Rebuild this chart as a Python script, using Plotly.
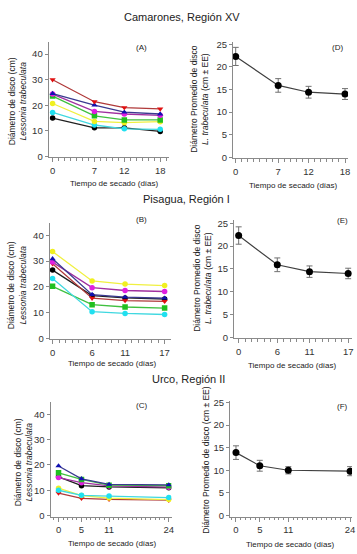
import plotly.graph_objects as go

# ---------------- data ----------------
days_A = [0, 7, 12, 18]
days_B = [0, 6, 11, 17]
days_C = [0, 5, 11, 24]

A_red = [30.0, 21.4, 19.1, 18.6]
A_blue = [24.6, 20.1, 17.3, 16.6]
A_magenta = [24.4, 17.6, 16.6, 16.1]
A_green = [23.6, 15.9, 14.3, 14.3]
A_yellow = [20.7, 13.7, 13.2, 13.6]
A_cyan = [17.2, 12.3, 10.8, 10.6]
A_black = [15.0, 11.2, 11.2, 9.8]

B_yellow = [33.7, 22.3, 21.1, 20.5]
B_blue = [30.9, 17.0, 16.0, 15.6]
B_magenta = [29.6, 19.7, 18.6, 18.2]
B_red = [29.0, 15.6, 14.7, 14.4]
B_black = [26.5, 16.6, 15.7, 15.3]
B_cyan = [23.2, 10.4, 9.7, 9.3]
B_green = [20.2, 13.1, 12.2, 11.8]

C_blue = [19.6, 14.5, 12.3, 12.1]
C_green = [16.9, 14.3, 12.0, 11.8]
C_magenta = [15.0, 13.0, 11.7, 11.2]
C_black = [15.3, 11.8, 11.3, 11.0]
C_yellow = [10.8, 7.9, 6.9, 6.3]
C_cyan = [10.0, 8.0, 7.7, 7.1]
C_red = [8.9, 6.8, 6.4, 6.1]

D_mean = [22.3, 15.9, 14.4, 14.0]
D_err = [2.0, 1.5, 1.3, 1.2]
E_mean = [22.3, 15.9, 14.4, 14.0]
E_err = [1.9, 1.5, 1.25, 1.15]
F_mean = [13.9, 11.0, 10.0, 9.8]
F_err = [1.5, 1.2, 0.8, 1.0]

# ---------------- styles ----------------
STY = {
    "red": dict(line="#b03a3a", marker="#e01010", symbol="triangle-down"),
    "blue": dict(line="#3a3a90", marker="#1010b0", symbol="triangle-up"),
    "magenta": dict(line="#a030a0", marker="#e020e0", symbol="circle"),
    "green": dict(line="#40c040", marker="#20c020", symbol="square"),
    "yellow": dict(line="#f0f040", marker="#f0f020", symbol="circle"),
    "cyan": dict(line="#40d8e0", marker="#20e0f0", symbol="circle"),
    "black": dict(line="#202020", marker="#000000", symbol="circle"),
}

fig = go.Figure()

def add_series(x, y, key, ax):
    s = STY[key]
    fig.add_trace(go.Scatter(
        x=x, y=y, mode="lines+markers", xaxis="x" + ax, yaxis="y" + ax,
        line=dict(color=s["line"], width=1.3),
        marker=dict(color=s["marker"], symbol=s["symbol"], size=5.5),
        showlegend=False))

# panel A (axis 1)
for key, vals in [("black", A_black), ("cyan", A_cyan), ("yellow", A_yellow),
                  ("green", A_green), ("magenta", A_magenta), ("blue", A_blue), ("red", A_red)]:
    add_series(days_A, vals, key, "")
# panel B (axis 3)
for key, vals in [("green", B_green), ("cyan", B_cyan), ("black", B_black), ("red", B_red),
                  ("magenta", B_magenta), ("blue", B_blue), ("yellow", B_yellow)]:
    add_series(days_B, vals, key, "3")
# panel C (axis 5)
for key, vals in [("red", C_red), ("yellow", C_yellow), ("cyan", C_cyan), ("black", C_black),
                  ("magenta", C_magenta), ("green", C_green), ("blue", C_blue)]:
    add_series(days_C, vals, key, "5")

def add_mean(x, y, e, ax):
    fig.add_trace(go.Scatter(
        x=x, y=y, mode="lines+markers", xaxis="x" + ax, yaxis="y" + ax,
        line=dict(color="#404040", width=1.2),
        marker=dict(color="#000000", size=7),
        error_y=dict(type="data", array=e, color="#707070", thickness=1, width=3),
        showlegend=False))

add_mean(days_A, D_mean, D_err, "2")
add_mean(days_B, E_mean, E_err, "4")
add_mean(days_C, F_mean, F_err, "6")

W, H = 357, 554
def px_x(a, b):
    return [a / W, b / W]
def px_y(top, bot):
    return [1 - bot / H, 1 - top / H]

TICKFONT = dict(family="Liberation Sans, Arial, sans-serif", size=9.5, color="#333333")
AXC = "#8a8a8a"

def xax(domain, rng, tv, anchor):
    return dict(domain=domain, range=rng, anchor=anchor, tickmode="array", tickvals=tv,
                ticktext=[str(v) for v in tv], ticks="outside", ticklen=4, tickcolor=AXC,
                showline=True, linecolor=AXC, linewidth=1, showgrid=False, zeroline=False,
                tickfont=TICKFONT,
                minor=dict(ticks="outside", ticklen=2.5, dtick=1, tick0=0, tickcolor=AXC, showgrid=False))

def yax(domain, rng, dt, anchor):
    return dict(domain=domain, range=rng, anchor=anchor, dtick=dt, tick0=0, ticks="outside",
                ticklen=3, tickcolor=AXC, showline=True, linecolor=AXC, linewidth=1,
                showgrid=False, zeroline=False, tickfont=TICKFONT)

layout = dict(
    width=W, height=H, margin=dict(l=0, r=0, t=0, b=0),
    paper_bgcolor="white", plot_bgcolor="white",
    font=dict(family="Liberation Sans, Arial, sans-serif", color="#222222"),
    xaxis=xax(px_x(49, 170), [-0.67, 19.4], days_A, "y"),
    yaxis=yax(px_y(38, 155), [-0.4, 44.6], 10, "x"),
    xaxis2=xax(px_x(235, 351), [-0.44, 18.5], days_A, "y2"),
    yaxis2=yax(px_y(38, 156), [-0.22, 25.4], 5, "x2"),
    xaxis3=xax(px_x(50, 172), [-0.45, 17.9], days_B, "y3"),
    yaxis3=yax(px_y(222, 340), [-0.38, 44.6], 10, "x3"),
    xaxis4=xax(px_x(236, 355), [-0.72, 17.6], days_B, "y4"),
    yaxis4=yax(px_y(219, 339), [-0.22, 25.6], 5, "x4"),
    xaxis5=xax(px_x(51, 173), [-1.73, 24.6], days_C, "y5"),
    yaxis5=yax(px_y(404, 520), [-0.39, 44.7], 10, "x5"),
    xaxis6=xax(px_x(232, 355), [-1.25, 24.4], days_C, "y6"),
    yaxis6=yax(px_y(403, 520), [-0.22, 25.2], 5, "x6"),
)
fig.update_layout(**layout)

ann = []
def text(x, y, s, size, angle=0, color="#222222"):
    ann.append(dict(x=x / W, y=1 - y / H, xref="paper", yref="paper", text=s, showarrow=False,
                    textangle=angle, xanchor="center", yanchor="middle",
                    font=dict(size=size, color=color)))

# region titles
text(184, 12, "Camarones, Región XV", 11)
text(188, 197, "Pisagua, Región I", 11)
text(190, 380, "Urco, Región II", 11)
# panel letters
text(143, 43, "(A)", 8)
text(340, 43, "(D)", 8)
text(143, 218, "(B)", 8)
text(345, 219, "(E)", 8)
text(143, 407, "(C)", 8)
text(345, 408, "(F)", 8)
# x titles
xt = "Tiempo de secado (días)"
text(115, 181, xt, 8)
text(296, 183, xt, 8)
text(113, 364, xt, 8)
text(295, 366, xt, 8)
text(113, 547, xt, 8)
text(293, 548, xt, 8)
# y titles
yl = "Diámetro de disco (cm)<br><i>Lessonia trabeculata</i>"
yr = "Diámetro Promedio de disco<br><i>L. trabeculata</i> (cm ± EE)"
text(18, 98, yl, 8.5, -90)
text(201, 95, yr, 8.5, -90)
text(17, 285, yl, 8.5, -90)
text(204, 277, yr, 8.5, -90)
text(24, 465, yl, 8.5, -90)
text(208, 463, "Diámetro Promedio de disco (cm ± EE)", 8.5, -90)
fig.update_layout(annotations=ann)

fig.write_html(
    "out.html",
    config={"displayModeBar": False},
    post_script="document.body.style.margin='0';document.body.style.padding='0';"
                "document.body.style.overflow='hidden';"
                "document.documentElement.style.overflow='hidden';",
)
